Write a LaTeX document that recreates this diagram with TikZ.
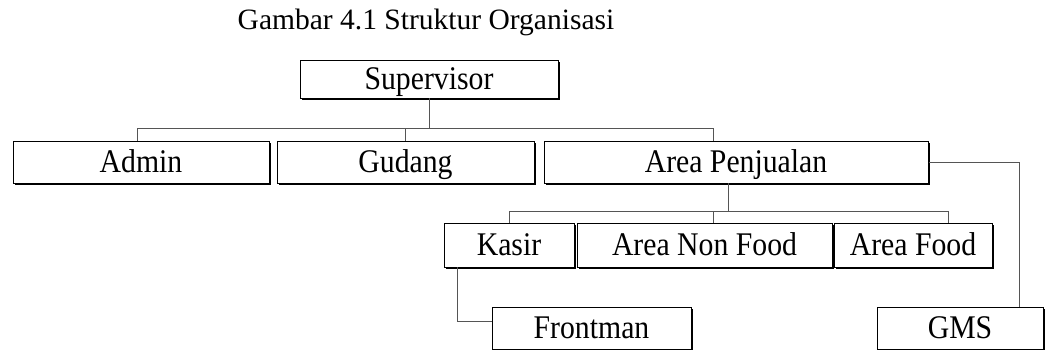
\documentclass[tikz,border=0pt]{standalone}
\usepackage{fontspec}
\setmainfont{Liberation Serif}
\newfontfamily\boxfont[FakeStretch=0.9]{Liberation Serif}
\usetikzlibrary{positioning,calc,shadows}
\definecolor{linegray}{HTML}{555555}

\begin{document}
\begin{tikzpicture}[
  unit/.style={rectangle, draw, line width=0.7pt, fill=white, minimum width=#1, minimum height=1.05cm, inner sep=0pt,
    text height=0.55cm, text depth=0.05cm,
    font=\boxfont\fontsize{23.5}{26}\selectfont,
    drop shadow={shadow xshift=0.04cm, shadow yshift=-0.04cm, fill=black, opacity=1}},
  conn/.style={draw=linegray, line width=0.6pt}
]
  \useasboundingbox (0,0) rectangle (26.125,-8.75);

  \node[anchor=base, font=\fontsize{21}{24}\selectfont] (title) at (10.65,-0.75) {Gambar 4.1 Struktur Organisasi};

  \node[unit=6.45cm, minimum height=0.95cm] (sup) at (10.725,-1.975) {Supervisor};

  \node[unit=6.4cm] (admin) at (3.525,-4.05) {Admin};
  \node[unit=6.425cm] (gudang) at (10.1375,-4.05) {Gudang};
  \node[unit=9.6cm] (penj) at (18.4,-4.05) {Area Penjualan};

  \node[unit=3.25cm, minimum height=1.1cm] (kasir) at (12.725,-6.125) {Kasir};
  \node[unit=6.375cm, minimum height=1.1cm] (nonfood) at (17.6125,-6.125) {Area Non Food};
  \node[unit=3.95cm, minimum height=1.1cm] (food) at (22.825,-6.125) {Area Food};

  \node[unit=4.975cm] (front) at (14.7875,-8.2) {Frontman};
  \node[unit=4.15cm] (gms) at (24,-8.2) {GMS};

  % branch lines
  \coordinate (bus1) at (0,-3.2);
  \coordinate (bus2) at (0,-5.275);

  \draw[conn] ([xshift=-0.1cm]admin.north) |- (bus1 -| sup.south) -- (sup.south);
  \draw[conn] (gudang.north) -- (gudang.north |- bus1);
  \draw[conn] (bus1 -| sup.south) -| ([xshift=-0.575cm]penj.north);

  \draw[conn] ([xshift=-0.2cm]penj.south) -- ([xshift=-0.2cm]penj.south |- bus2);
  \draw[conn] (kasir.north) |- ([xshift=0.875cm]food.north |- bus2) -- ([xshift=0.875cm]food.north);
  \draw[conn] ([xshift=0.2125cm]nonfood.north) -- ([xshift=0.2125cm]nonfood.north |- bus2);

  \draw[conn] ([xshift=-1.3cm]kasir.south) |- ([yshift=0.175cm]front.west);
  \draw[conn] (penj.east) -| ([xshift=1.475cm]gms.north);
\end{tikzpicture}
\end{document}
